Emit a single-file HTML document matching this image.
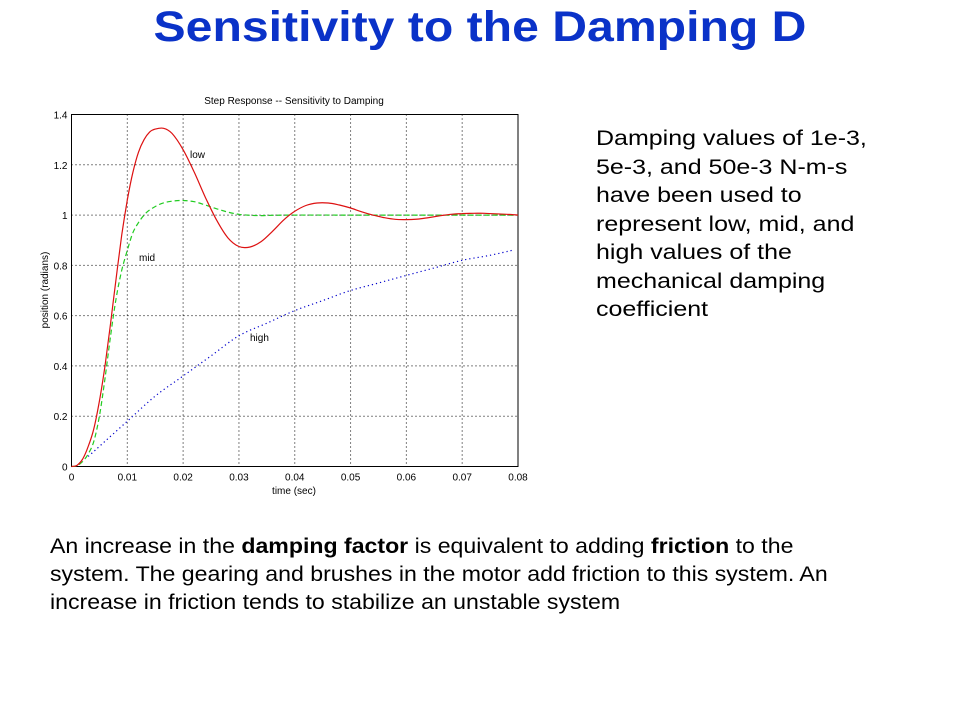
<!DOCTYPE html>
<html><head><meta charset="utf-8">
<style>
body{margin:0;width:960px;height:720px;background:#fff;font-family:"Liberation Sans",Arial,sans-serif;position:relative;overflow:hidden}
#title{position:absolute;left:0;width:960px;top:3px;text-align:center;font-weight:bold;font-size:43px;color:#0a32c8;margin:0;transform:scaleX(1.12);transform-origin:480px 0}
#side{position:absolute;left:596px;top:125px;font-size:21px;line-height:28.5px;color:#000;transform:scaleX(1.19);transform-origin:0 0;white-space:nowrap}
#bottom{position:absolute;left:50px;top:533px;font-size:21px;line-height:28px;color:#000;white-space:nowrap;transform:scaleX(1.1);transform-origin:0 0}
svg{position:absolute;left:0;top:0}
</style></head><body>
<h1 id="title">Sensitivity to the Damping D</h1>
<div id="side">Damping values of 1e-3,<br>5e-3, and 50e-3 N-m-s<br>have been used to<br>represent low, mid, and<br>high values of the<br>mechanical damping<br>coefficient</div>
<div id="bottom">An increase in the <b>damping factor</b> is equivalent to adding <b>friction</b> to the<br>system. The gearing and brushes in the motor add friction to this system. An<br>increase in friction tends to stabilize an unstable system</div>
<svg id="chart" width="960" height="720"></svg>
<script>
const xTicks=[0,0.01,0.02,0.03,0.04,0.05,0.06,0.07,0.08];
const xTickLabels=["0","0.01","0.02","0.03","0.04","0.05","0.06","0.07","0.08"];
const yTicks=[0,0.2,0.4,0.6,0.8,1,1.2,1.4];
const yTickLabels=["0","0.2","0.4","0.6","0.8","1","1.2","1.4"];
const lowT=[0,0.001,0.002,0.003,0.004,0.005,0.006,0.007,0.008,0.009,0.01,0.011,0.012,0.013,0.014,0.015,0.0165,0.018,0.02,0.022,0.024,0.026,0.028,0.03,0.032,0.034,0.036,0.038,0.04,0.042,0.044,0.046,0.048,0.05,0.052,0.054,0.056,0.058,0.06,0.062,0.064,0.066,0.068,0.07,0.072,0.074,0.076,0.078,0.08];
const lowY=[0,0.005,0.03,0.08,0.15,0.26,0.4,0.57,0.75,0.92,1.06,1.17,1.25,1.3,1.33,1.342,1.345,1.325,1.26,1.17,1.07,0.98,0.91,0.875,0.873,0.895,0.935,0.98,1.015,1.038,1.048,1.048,1.04,1.028,1.013,1.0,0.99,0.983,0.982,0.984,0.99,0.997,1.003,1.006,1.007,1.007,1.005,1.003,1.0];
const midT=[0,0.001,0.002,0.003,0.004,0.005,0.006,0.007,0.008,0.009,0.01,0.011,0.012,0.013,0.014,0.016,0.018,0.02,0.022,0.024,0.026,0.028,0.03,0.032,0.034,0.036,0.04,0.05,0.06,0.07,0.08];
const midY=[0,0.003,0.02,0.05,0.1,0.2,0.35,0.52,0.67,0.78,0.86,0.93,0.97,1.0,1.02,1.045,1.055,1.058,1.053,1.04,1.025,1.012,1.003,0.999,0.998,0.999,1.0,1.0,1.0,1.0,1.0];
const highT=[0.003,0.005,0.01,0.015,0.02,0.025,0.03,0.035,0.04,0.045,0.05,0.055,0.06,0.065,0.07,0.075,0.079];
const highY=[0.04,0.08,0.18,0.28,0.36,0.44,0.52,0.57,0.62,0.66,0.7,0.73,0.76,0.79,0.82,0.84,0.86];
const X0=71.5,X1=518,Y0=466.5,Y1=114.5;
const sx=t=>X0+(t-0)/(0.08-0)*(X1-X0);
const sy=v=>Y0-(v-0)/(1.4-0)*(Y0-Y1);
const svg=document.getElementById('chart');
const NS='http://www.w3.org/2000/svg';
function mk(tag,attrs){const e=document.createElementNS(NS,tag);for(const k in attrs)e.setAttribute(k,attrs[k]);svg.appendChild(e);return e;}
xTicks.forEach((t,i)=>{
 if(i>0&&i<xTicks.length-1){const g=mk('line',{x1:sx(t),x2:sx(t),y1:Y1,y2:Y0,stroke:'#000','stroke-width':1,'stroke-dasharray':'1,3'});
 
 }
 const l=mk('text',{x:sx(t),y:Y0+14,'font-size':10,'text-anchor':'middle','font-family':'Liberation Sans, sans-serif'});l.textContent=xTickLabels[i];
 
 
});
yTicks.forEach((v,i)=>{
 if(i>0&&i<yTicks.length-1){const g=mk('line',{x1:X0,x2:X1,y1:sy(v),y2:sy(v),stroke:'#000','stroke-width':1,'stroke-dasharray':'1,3'});
 
 }
 const l=mk('text',{x:X0-4,y:sy(v)+4,'font-size':10,'text-anchor':'end','font-family':'Liberation Sans, sans-serif'});l.textContent=yTickLabels[i];
 
 
});
const box=mk('rect',{x:X0,y:Y1,width:X1-X0,height:Y0-Y1,fill:'none',stroke:'#000','stroke-width':1});


function line(T,Y,color,dash,name){
 const P=T.map((t,i)=>[sx(t),sy(Y[i])]);
 let d='M'+P[0][0].toFixed(1)+','+P[0][1].toFixed(1);
 for(let i=0;i<P.length-1;i++){
  const p0=P[Math.max(0,i-1)],p1=P[i],p2=P[i+1],p3=P[Math.min(P.length-1,i+2)];
  const c1=[p1[0]+(p2[0]-p0[0])/6,p1[1]+(p2[1]-p0[1])/6],c2=[p2[0]-(p3[0]-p1[0])/6,p2[1]-(p3[1]-p1[1])/6];
  d+='C'+c1.map(v=>v.toFixed(1)).join(',')+' '+c2.map(v=>v.toFixed(1)).join(',')+' '+p2.map(v=>v.toFixed(1)).join(',');
 }
 const p=mk('path',{d:d,fill:'none',stroke:color,'stroke-width':1.2,'stroke-dasharray':dash,'stroke-linejoin':'round'});
 
 
}
line(highT,highY,'#0000cc','1.2,3','high-damping-line');
line(midT,midY,'#22cc22','5,3','mid-damping-line');
line(lowT,lowY,'#dd1111','','low-damping-line');
function txt(x,y,s,size,name,extra){const t=mk('text',Object.assign({x:x,y:y,'font-size':size,'font-family':'Liberation Sans, sans-serif'},extra||{}));t.textContent=s;
 
 return t;}
txt(190,158,'low',10,'low-label');
txt(139,261,'mid',10,'mid-label');
txt(250,341,'high',10,'high-label');
txt(294,104,'Step Response -- Sensitivity to Damping',10,'chart-title',{'text-anchor':'middle'});
txt(294,494,'time (sec)',10,'x-axis-title',{'text-anchor':'middle'});
txt(0,0,'position (radians)',10,'y-axis-title',{'text-anchor':'middle',transform:'translate(48,290) rotate(-90)'});
</script>
</body></html>
